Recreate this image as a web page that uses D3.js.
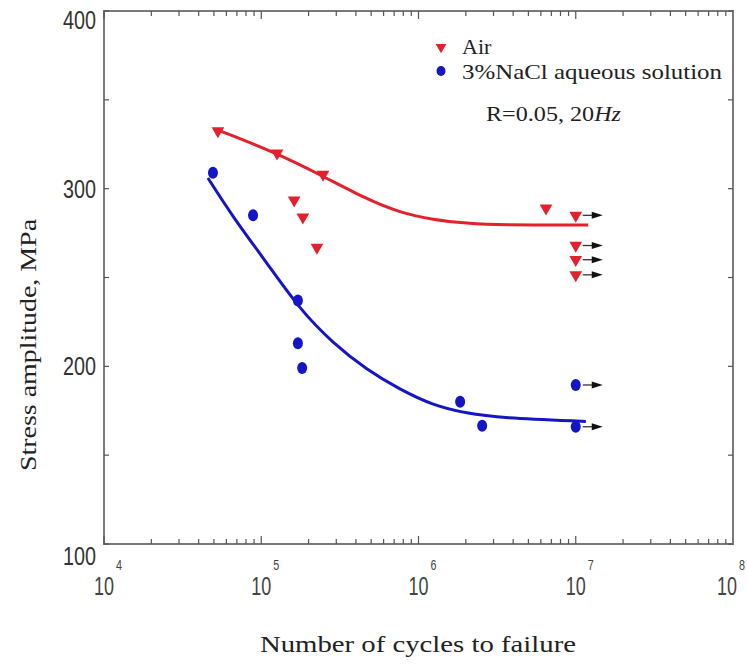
<!DOCTYPE html>
<html>
<head>
<meta charset="utf-8">
<script src="https://cdn.jsdelivr.net/npm/d3@7"></script>
<style>
  html, body { margin: 0; padding: 0; background: #fff; }
  svg { display: block; }
</style>
</head>
<body>
<svg id="chart" width="748" height="664"></svg>
<script>
// Fatigue test results: cycles to failure vs stress amplitude
const airCycles   = [5.3e4, 1.26e5, 2.47e5, 1.62e5, 1.84e5, 2.26e5, 6.47e6, 1.0e7, 1.0e7, 1.0e7, 1.0e7];
const airStress   = [332.5, 320, 308, 293.5, 284, 267, 289, 285, 268, 260, 251.5];
const airRunout   = [false, false, false, false, false, false, false, true, true, true, true];

const naclCycles  = [4.93e4, 8.87e4, 1.71e5, 1.71e5, 1.82e5, 1.84e6, 2.54e6, 1.0e7, 1.0e7];
const naclStress  = [309, 285, 237, 213, 199, 180, 166.5, 189.5, 166];
const naclRunout  = [false, false, false, false, false, false, false, true, true];

// Fitted S-N curves
const airFitCycles  = [5.3e4, 1.26e5, 2.47e5, 4.7e5, 7.62e5, 1.24e6, 2.03e6, 3.3e6, 1.2e7];
const airFitStress  = [333, 320, 307, 294, 286.5, 282.5, 280.5, 279.5, 279.5];
const naclFitCycles = [4.58e4, 6.61e4, 1.09e5, 1.76e5, 2.86e5, 4.7e5, 7.62e5, 1.24e6, 2.03e6, 3.3e6, 1.16e7];
const naclFitStress = [306, 284, 258, 232, 213, 198, 187, 178, 173.5, 171, 169];

const xDecades = [1e4, 1e5, 1e6, 1e7, 1e8];
const yTicks   = [100, 200, 300, 400];

const RED = "#e3202b", BLUE = "#1515c8", AXIS = "#7a7a7a";
const SANS = "'Liberation Sans', Arial, sans-serif";
const SERIF = "'Liberation Serif', 'Times New Roman', serif";

const svg = d3.select("#chart");
const x = d3.scaleLog().domain([1e4, 1e8]).range([104, 733]);
const y = d3.scaleLinear().domain([100, 400]).range([544, 11]);

// Plot frame
svg.append("rect")
  .attr("x", x.range()[0]).attr("y", y.range()[1])
  .attr("width", x.range()[1] - x.range()[0])
  .attr("height", y.range()[0] - y.range()[1])
  .attr("fill", "none").attr("stroke", AXIS).attr("stroke-width", 2);

// Inward ticks on all four sides
const g = svg.append("g").attr("stroke", "#555").attr("stroke-width", 1.2);
const minorX = [];
for (let e = 4; e < 8; e++) for (let m = 1; m <= 9; m++) minorX.push(m * Math.pow(10, e));
minorX.forEach(v => {
  const len = Math.abs(Math.log10(v) % 1) < 1e-9 ? 8 : 5;
  g.append("line").attr("x1", x(v)).attr("x2", x(v)).attr("y1", y(100)).attr("y2", y(100) - len);
  g.append("line").attr("x1", x(v)).attr("x2", x(v)).attr("y1", y(400)).attr("y2", y(400) + len);
});
d3.range(100, 401, 50).forEach(v => {
  g.append("line").attr("x1", x(1e4)).attr("x2", x(1e4) + 5).attr("y1", y(v)).attr("y2", y(v));
  g.append("line").attr("x1", x(1e8)).attr("x2", x(1e8) - 5).attr("y1", y(v)).attr("y2", y(v));
});

// Y tick labels (condensed)
svg.append("g").selectAll("text").data(yTicks).join("text")
  .attr("x", 96).attr("y", d => y(d) + (d === 400 ? 9 : d === 100 ? 12 : 0))
  .attr("dy", "0.36em").attr("text-anchor", "end")
  .attr("font-family", SANS).attr("font-size", 25).attr("fill", "#333")
  .attr("textLength", 33).attr("lengthAdjust", "spacingAndGlyphs")
  .text(d => d);

// X tick labels as powers of ten (the last one is nudged to stay inside the page)
const xl = svg.append("g").attr("font-family", SANS).attr("fill", "#444");
xDecades.forEach((v, i) => {
  const px = x(v) - (i === xDecades.length - 1 ? 6 : 0);
  xl.append("text").attr("x", px - 10).attr("y", 595).attr("text-anchor", "start")
    .attr("font-size", 25).attr("textLength", 20).attr("lengthAdjust", "spacingAndGlyphs")
    .text("10");
  xl.append("text").attr("x", px + 12).attr("y", 570).attr("text-anchor", "start")
    .attr("font-size", 15).attr("textLength", 6).attr("lengthAdjust", "spacingAndGlyphs")
    .text(Math.round(Math.log10(v)));
});

// Axis titles
svg.append("text").attr("x", 418).attr("y", 652).attr("text-anchor", "middle")
  .attr("font-family", SERIF).attr("font-size", 24).attr("fill", "#222")
  .attr("textLength", 316).attr("lengthAdjust", "spacingAndGlyphs")
  .text("Number of cycles to failure");
svg.append("text").attr("transform", "translate(36,345) rotate(-90)").attr("text-anchor", "middle")
  .attr("font-family", SERIF).attr("font-size", 24).attr("fill", "#222")
  .attr("textLength", 252).attr("lengthAdjust", "spacingAndGlyphs")
  .text("Stress amplitude, MPa");

// Fitted curves
const line = d3.line().x(d => x(d[0])).y(d => y(d[1])).curve(d3.curveBasis);
svg.append("path").datum(d3.zip(airFitCycles, airFitStress))
  .attr("d", line).attr("fill", "none").attr("stroke", RED).attr("stroke-width", 3);
svg.append("path").datum(d3.zip(naclFitCycles, naclFitStress))
  .attr("d", line).attr("fill", "none").attr("stroke", BLUE).attr("stroke-width", 3);

// Run-out arrows
function runoutArrow(cx, cy) {
  svg.append("line").attr("x1", cx + 7).attr("x2", cx + 17).attr("y1", cy).attr("y2", cy)
    .attr("stroke", "#333").attr("stroke-width", 1.3);
  svg.append("path").attr("d", `M${cx + 27},${cy} L${cx + 16},${cy - 3.5} L${cx + 16},${cy + 3.5} Z`)
    .attr("fill", "#111");
}

const tri = d3.symbol().type(d3.symbolTriangle).size(70);

// Air markers (downward triangles)
airCycles.forEach((c, i) => {
  const px = x(c), py = y(airStress[i]);
  svg.append("path").attr("d", tri()).attr("transform", `translate(${px},${py}) rotate(180)`)
    .attr("fill", RED);
  if (airRunout[i]) runoutArrow(px, py);
});

// NaCl solution markers (dots)
naclCycles.forEach((c, i) => {
  const px = x(c), py = y(naclStress[i]);
  svg.append("ellipse").attr("cx", px).attr("cy", py).attr("rx", 5).attr("ry", 6).attr("fill", BLUE);
  if (naclRunout[i]) runoutArrow(px, py);
});

// Legend
const lg = svg.append("g").attr("font-family", SERIF).attr("fill", "#222");
lg.append("path").attr("d", d3.symbol().type(d3.symbolTriangle).size(50)())
  .attr("transform", "translate(441,47) rotate(180)").attr("fill", RED);
lg.append("text").attr("x", 462).attr("y", 54).attr("font-size", 22).text("Air");
lg.append("ellipse").attr("cx", 441).attr("cy", 71).attr("rx", 4.5).attr("ry", 5).attr("fill", BLUE);
lg.append("text").attr("x", 462).attr("y", 79).attr("font-size", 22)
  .attr("textLength", 260).attr("lengthAdjust", "spacingAndGlyphs")
  .text("3%NaCl aqueous solution");
const note = lg.append("text").attr("x", 486).attr("y", 121).attr("font-size", 20)
  .attr("textLength", 135).attr("lengthAdjust", "spacingAndGlyphs");
note.append("tspan").text("R=0.05,  20");
note.append("tspan").attr("font-style", "italic").text("Hz");
</script>
</body>
</html>
